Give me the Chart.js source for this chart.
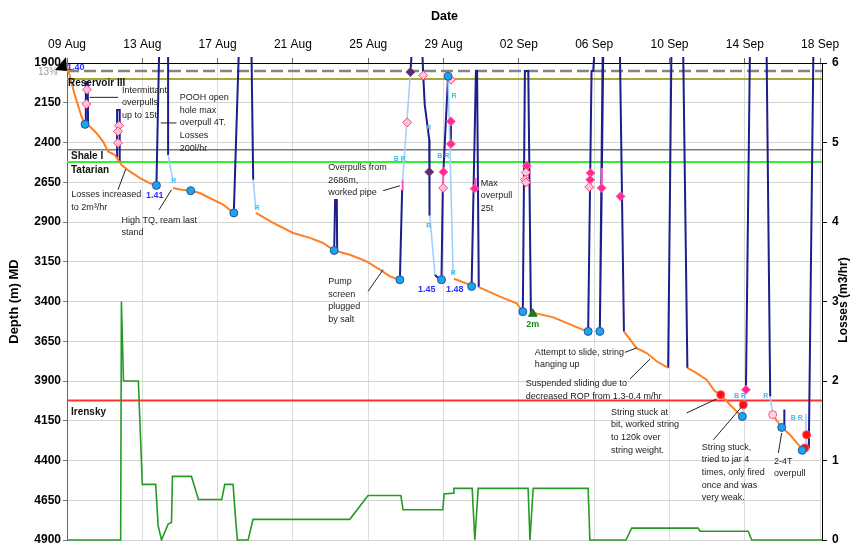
<!DOCTYPE html>
<html>
<head>
<meta charset="utf-8">
<script src="https://cdn.jsdelivr.net/npm/chart.js@4.4.1/dist/chart.umd.min.js"></script>
<style>
  html, body { margin: 0; padding: 0; background: #fff; }
</style>
</head>
<body>
<canvas id="depthChart" width="857" height="546"></canvas>
<script>
// x axis: days since 09 Aug, a label every 4 days
const dateLabels = ['09 Aug', '13 Aug', '17 Aug', '21 Aug', '25 Aug', '29 Aug', '02 Sep', '06 Sep', '10 Sep', '14 Sep', '18 Sep'];

// drilling progress [day, depth m MD], null = gap while tripping
const drillPath = [
  [0, 1915], [0.41, 2099], [0.77, 2236], [0.96, 2286], [1.21, 2299], [1.56, 2340], [1.91, 2393], [2.18, 2456], [2.53, 2477], [2.89, 2540], [3.33, 2582], [3.86, 2623], [4.39, 2655], [4.75, 2670], null,
  [5.63, 2686], [6.08, 2697], [6.57, 2703], [7.05, 2718], [7.58, 2749], [8.29, 2791], [8.86, 2843], null,
  [10.03, 2843], [10.95, 2906], [12.01, 2969], [12.90, 3000], [13.60, 3032], [14.19, 3079], [15.02, 3106], [15.91, 3148], [16.62, 3200], [17.15, 3242], [17.68, 3263], null,
  [20.55, 3257], [21.40, 3295], [21.49, 3305], null,
  [21.87, 3310], [23.0, 3369], [23.88, 3411], [24.14, 3452], [24.21, 3464], null,
  [24.74, 3470], [25.83, 3500], [27.42, 3578], [27.68, 3588], null,
  [29.58, 3588], [30.24, 3692], [30.79, 3724], [31.32, 3776], [31.93, 3818], null,
  [32.95, 3818], [33.44, 3850], [33.97, 3892], [34.41, 3965], [34.72, 3986], [35.21, 4049], [35.74, 4112], [35.87, 4123], null,
  [37.48, 4112], [37.96, 4192], [38.4, 4238], [39.02, 4325], [39.19, 4325]
];

// trips (POOH / RIH)
const tripPath = [
  [0.96, 2286], [1.0, 2020], [1.1, 2020], [1.12, 2290], null,
  [2.66, 2495], [2.66, 2195], [2.8, 2195], [2.8, 2520], null,
  [4.75, 2670], [4.89, 1850], null,
  [5.37, 1850], [5.37, 2478], null,
  [8.86, 2843], [9.12, 1850], null,
  [9.80, 1850], [9.89, 2634], null,
  [14.19, 3079], [14.24, 2761], [14.33, 2761], [14.35, 3085], null,
  [17.68, 3263], [17.80, 2697], null,
  [18.24, 1957], [18.30, 1850], null,
  [18.88, 1850], [18.92, 1978], [19.0, 2162], [19.24, 2382], [19.24, 2585], [19.27, 2860], null,
  [19.54, 3232], [19.71, 3252], [19.89, 3263], [19.96, 2686], null,
  [19.99, 2585], [20.24, 1984], null,
  [20.39, 2267], [20.39, 2409], null,
  [21.49, 3305], [21.72, 1950], [21.78, 1950], [21.87, 3310], null,
  [24.21, 3464], [24.32, 1950], [24.5, 1950], [24.64, 3477], null,
  [27.68, 3588], [27.86, 1950], [27.95, 1950], [28.0, 1850], null,
  [28.45, 1850], [28.3, 3588], [28.4, 2686], null,
  [28.41, 2560], [28.48, 1850], null,
  [29.37, 1850], [29.58, 3588], null,
  [31.93, 3818], [32.1, 1850], null,
  [32.73, 1850], [32.95, 3818], null,
  [36.06, 3955], [36.27, 1850], null,
  [37.16, 1850], [37.35, 3997], null,
  [38.1, 4205], [38.1, 4080], null,
  [39.4, 4325], [39.64, 1850]
];

// reaming / back reaming
const reamPath = [
  [5.37, 2478], [5.63, 2645], null,
  [9.89, 2634], [10.03, 2823], null,
  [17.83, 2634], [18.24, 1957], null,
  [19.27, 2860], [19.54, 3232], null,
  [20.24, 1984], [20.51, 3232], null,
  [35.87, 4123], [35.92, 4049], [36.06, 3955], null,
  [37.35, 3997], [37.48, 4112], null,
  [39.25, 4106], [39.25, 4321]
];

// overpull intervals
const pullPath = [
  [17.80, 2697], [17.83, 2634], null,
  [19.96, 2686], [19.99, 2585], null,
  [21.7, 2621], [21.7, 2690], null,
  [28.4, 2686], [28.41, 2560]
];

// events
const bitChange = [[0.96, 2286], [4.75, 2670], [6.57, 2703], [8.86, 2843], [14.19, 3079], [17.68, 3263], [19.89, 3263], [20.24, 1984], [21.49, 3305], [24.21, 3464], [27.68, 3588], [28.3, 3588], [35.87, 4123], [37.96, 4192], [39.05, 4336]];
const overpullOpen = [[1.06, 2068], [1.03, 2158], [2.76, 2294], [2.71, 2330], [2.71, 2403], [18.07, 2274], [18.92, 1978], [19.98, 2686], [20.39, 2005], [24.37, 2588], [24.33, 2634], [24.37, 2651], [27.74, 2680]];
const overpullSolid = [[19.99, 2585], [20.39, 2267], [20.39, 2409], [21.65, 2690], [24.42, 2546], [27.81, 2592], [27.79, 2634], [28.4, 2686], [29.4, 2739], [36.06, 3955]];
const packoffPts = [[18.24, 1957], [19.24, 2585]];
const stuckPts = [[34.72, 3986], [35.92, 4049], [39.19, 4321], [39.28, 4238]];
const tightPts = [[37.48, 4112]];
const slidePts = [[24.74, 3477]];

// losses m3/hr on the right axis
const lossPath = [
  [0, 0], [2.85, 0], [2.89, 3.0], [3.0, 2.0], [3.79, 2.0], [4.0, 0.70], [4.71, 0.70], [4.84, 0.18], [5.02, 0], [5.37, 0.20], [5.55, 0.22], [5.60, 0.80],
  [6.61, 0.80], [6.98, 0.51], [8.22, 0.51], [8.38, 0.70], [8.82, 0.70], [8.96, 0.25], [9.05, 0], [9.62, 0], [9.88, 0.26], [15.02, 0.26],
  [15.99, 0.56], [17.73, 0.56], [17.85, 0.38], [19.96, 0.38], [20.03, 0.58], [20.51, 0.59], [20.55, 0.65], [21.52, 0.65], [21.66, 0],
  [21.84, 0.65], [24.49, 0.65], [24.59, 0], [24.76, 0.65], [27.68, 0.65], [27.77, 0], [29.69, 0], [29.99, 0.15], [33.53, 0.15],
  [33.62, 0.11], [36.18, 0.11], [36.37, 0], [40.1, 0]
];

// formation tops / casing shoe
const formationNames = ['13\u215C"', 'Reservoir III', 'Shale I', 'Tatarian', 'Irensky'];
const formationDepths = [1950, 2000, 2445, 2523, 4022];

// text notes: [day, depth] of first line
const noteTexts = [
  ['Intermittant', 'overpulls', 'up to 15t'],
  ['POOH open', 'hole max', 'overpull 4T.', 'Losses', '200l/hr'],
  ['Losses increased', 'to 2m\u00B3/hr'],
  ['High TQ, ream last', 'stand'],
  ['Overpulls from', '2686m,', 'worked pipe'],
  ['Pump', 'screen', 'plugged', 'by salt'],
  ['Max', 'overpull', '25t'],
  ['Attempt to slide, string', 'hanging up'],
  ['Suspended sliding due to', 'decreased ROP from 1.3-0.4 m/hr'],
  ['String stuck at', 'bit, worked string', 'to 120k over', 'string weight.'],
  ['String stuck,', 'tried to jar 4', 'times, only fired', 'once and was', 'very weak.'],
  ['2-4T', 'overpull']
];
const notePos = [[2.92, 2072], [5.99, 2118], [0.23, 2728], [2.89, 2890], [13.87, 2557], [13.87, 3274], [21.98, 2655], [24.85, 3718], [24.37, 3917], [28.89, 4097], [33.71, 4317], [37.55, 4405]];
const noteLeaders = [
  [1.21, 2116, 2.71, 2116], [4.98, 2277, 5.81, 2277], [3.12, 2567, 2.71, 2697], [5.55, 2697, 4.89, 2823],
  [16.79, 2703, 17.68, 2672], [15.99, 3336, 16.79, 3200], [29.63, 3720, 30.26, 3692], [29.9, 3887, 30.96, 3762],
  [32.91, 4101, 34.5, 4013], [34.33, 4270, 35.83, 4063], [37.78, 4353, 37.96, 4227]
];

const bitTags = [['1.40', 0.46, 1930], ['1.41', 4.66, 2735], ['1.45', 19.11, 3326], ['1.48', 20.6, 3326]];
const slideTags = [['2m', 24.74, 3546]];
const reamTags = [['R', 5.67, 2645], ['R', 10.1, 2812], ['R', 19.22, 2309], ['R', 19.22, 2928], ['R', 20.55, 2110], ['R', 20.51, 3221], ['R', 37.12, 3992],
  ['B R', 17.68, 2504], ['B R', 19.98, 2487], ['B R', 35.74, 3992], ['B R', 38.76, 4133]];

const FONT = '"Liberation Sans", Arial, sans-serif';
Chart.defaults.font.family = FONT;

function toPoints(path) {
    return path.map(function (p) {
        return p ? { x: p[0], y: p[1] } : { x: null, y: null };
    });
}

function pathLine(path, color, width, order, axis) {
    return {
        data: toPoints(path),
        showLine: true,
        borderColor: color,
        borderWidth: width,
        pointRadius: 0,
        spanGaps: false,
        tension: 0,
        order: order,
        yAxisID: axis || 'y',
        clip: { left: 1, top: 6, right: 1, bottom: 1 }
    };
}

function markers(pts, style, radius, fill, stroke, order) {
    return {
        data: toPoints(pts),
        showLine: false,
        pointStyle: style,
        pointRadius: radius,
        backgroundColor: fill,
        borderColor: stroke,
        borderWidth: 1,
        order: order,
        clip: false
    };
}

// vertical axes: keep the plot box fixed, no extra room for end labels
function fixWidth(w) {
    return function (scale) {
        scale.width = w;
        scale.paddingTop = 0;
        scale.paddingBottom = 0;
    };
}

const formationColors = ['#858585', '#a9a935', '#7a7a7a', '#33ee33', '#ff3030'];
const formationWidths = [2.5, 2, 1.5, 2, 2];
const formationLabelDrop = [0, 4, 7, 8, 12];

const formationSets = formationDepths.map(function (d, i) {
    return {
        data: [{ x: 0, y: d }, { x: 40.1, y: d }],
        showLine: true,
        borderColor: formationColors[i],
        borderWidth: formationWidths[i],
        borderDash: i === 0 ? [12, 5] : [],
        pointRadius: 0,
        order: i === 0 ? 5 : 20
    };
});

// labels, notes and leaders drawn through the scales
const wellNotes = {
    id: 'wellNotes',
    afterDatasetsDraw(chart) {
        const c = chart.ctx;
        const xs = chart.scales.x;
        const ys = chart.scales.y;
        const area = chart.chartArea;
        const px = function (d) { return xs.getPixelForValue(d); };
        const py = function (d) { return ys.getPixelForValue(d); };
        c.save();

        // formation names
        c.textBaseline = 'middle';
        formationNames.forEach(function (name, i) {
            const yy = py(formationDepths[i]);
            if (i === 0) {
                c.font = '10px ' + FONT;
                c.fillStyle = '#9a9a9a';
                c.textAlign = 'right';
                c.fillText(name, area.left - 6, yy + 1);
            } else {
                c.font = 'bold 10px ' + FONT;
                c.fillStyle = '#111';
                c.textAlign = 'left';
                c.fillText(name, area.left + (i === 1 ? 1 : 4), yy + formationLabelDrop[i]);
            }
        });

        // notes
        c.font = '9px ' + FONT;
        c.fillStyle = '#222';
        c.textAlign = 'left';
        noteTexts.forEach(function (lines, i) {
            const x0 = px(notePos[i][0]);
            const y0 = py(notePos[i][1]);
            lines.forEach(function (t, k) {
                c.fillText(t, x0, y0 + k * 12.6);
            });
        });
        c.strokeStyle = '#222';
        c.lineWidth = 1;
        noteLeaders.forEach(function (l) {
            c.beginPath();
            c.moveTo(px(l[0]), py(l[1]));
            c.lineTo(px(l[2]), py(l[3]));
            c.stroke();
        });

        // mud weight / slide tags
        c.textAlign = 'center';
        c.font = 'bold 9px ' + FONT;
        c.fillStyle = '#2a33ff';
        bitTags.forEach(function (t) { c.fillText(t[0], px(t[1]), py(t[2])); });
        c.fillStyle = '#1d8a1d';
        slideTags.forEach(function (t) { c.fillText(t[0], px(t[1]), py(t[2])); });
        c.font = 'bold 7px ' + FONT;
        c.fillStyle = '#3fbdf0';
        reamTags.forEach(function (t) { c.fillText(t[0], px(t[1]), py(t[2])); });

        // corner marker
        c.fillStyle = '#000';
        c.beginPath();
        c.moveTo(area.left - 12, area.top + 7);
        c.lineTo(area.left - 1, area.top - 6);
        c.lineTo(area.left, area.top + 8);
        c.closePath();
        c.fill();

        // right axis title
        c.translate(844, 300);
        c.rotate(-Math.PI / 2);
        c.font = 'bold 12px ' + FONT;
        c.fillStyle = '#000';
        c.textAlign = 'center';
        c.fillText('Losses (m3/hr)', 0, 0);
        c.restore();
    }
};

const ctx = document.getElementById('depthChart').getContext('2d');
new Chart(ctx, {
    type: 'scatter',
    data: {
        datasets: [
            markers(bitChange, 'circle', 4, '#19a6ec', '#2b4fa3', 0),
            markers(overpullOpen, 'rectRot', 4.5, '#ffc4d8', '#ff4282', 0),
            markers(overpullSolid, 'rectRot', 4.5, '#ff2a8c', '#ff6fb0', 0),
            markers(packoffPts, 'rectRot', 4.5, '#5a2d70', '#7b4d90', 0),
            markers(stuckPts, 'circle', 4, '#ff1010', '#ff5050', 0),
            markers(tightPts, 'circle', 4, '#ffd3df', '#ff4f80', 0),
            markers(slidePts, 'triangle', 5, '#1b7a1b', '#1b7a1b', 0),
            pathLine(pullPath, '#ff55c0', 2, 2),
            pathLine(drillPath, '#ff7f24', 2, 3),
            pathLine(reamPath, '#9fd0ff', 1.6, 4),
            pathLine(tripPath, '#1d1d8c', 2, 4),
            pathLine(lossPath, '#259a25', 1.6, 6, 'y2')
        ].concat(formationSets)
    },
    options: {
        responsive: false,
        animation: false,
        layout: { padding: { left: 0, right: 0, top: 0, bottom: 6 } },
        plugins: {
            legend: { display: false },
            tooltip: { enabled: false }
        },
        scales: {
            x: {
                type: 'linear',
                position: 'top',
                min: 0,
                max: 40.1,
                afterBuildTicks: function (scale) {
                    scale.ticks = dateLabels.map(function (_, i) { return { value: i * 4 }; });
                },
                afterFit: function (scale) { scale.height = 63; },
                ticks: {
                    autoSkip: false,
                    maxRotation: 0,
                    padding: 6,
                    color: '#000',
                    font: { size: 12 },
                    callback: function (v) { return dateLabels[Math.round(v / 4)]; }
                },
                grid: {
                    color: function (c) { return c.tick && c.tick.value === 0 ? '#555' : '#dcdcdc'; },
                    tickLength: 5,
                    tickColor: '#666'
                },
                border: { color: '#000' },
                title: {
                    display: true,
                    text: 'Date',
                    color: '#000',
                    font: { size: 12.5, weight: 'bold' },
                    padding: { top: 9, bottom: 0 }
                }
            },
            y: {
                position: 'left',
                reverse: true,
                min: 1900,
                max: 4900,
                afterFit: fixWidth(67),
                ticks: {
                    stepSize: 250,
                    padding: 2,
                    color: '#000',
                    font: { size: 12, weight: 'bold' },
                    callback: function (v) { return String(v); }
                },
                grid: {
                    color: function (c) { return c.tick && c.tick.value === 1900 ? '#000' : '#d2d2d2'; },
                    tickLength: 4,
                    tickColor: '#777'
                },
                border: { color: '#666' },
                title: {
                    display: true,
                    text: 'Depth (m) MD',
                    color: '#000',
                    font: { size: 13, weight: 'bold' },
                    padding: { top: 7, bottom: 0 }
                }
            },
            y2: {
                position: 'right',
                min: 0,
                max: 6,
                afterFit: fixWidth(35),
                ticks: {
                    stepSize: 1,
                    padding: 5,
                    color: '#000',
                    font: { size: 12, weight: 'bold' }
                },
                grid: { drawOnChartArea: false, tickLength: 5, tickColor: '#000' },
                border: { color: '#000' }
            }
        }
    },
    plugins: [wellNotes]
});
</script>
</body>
</html>
